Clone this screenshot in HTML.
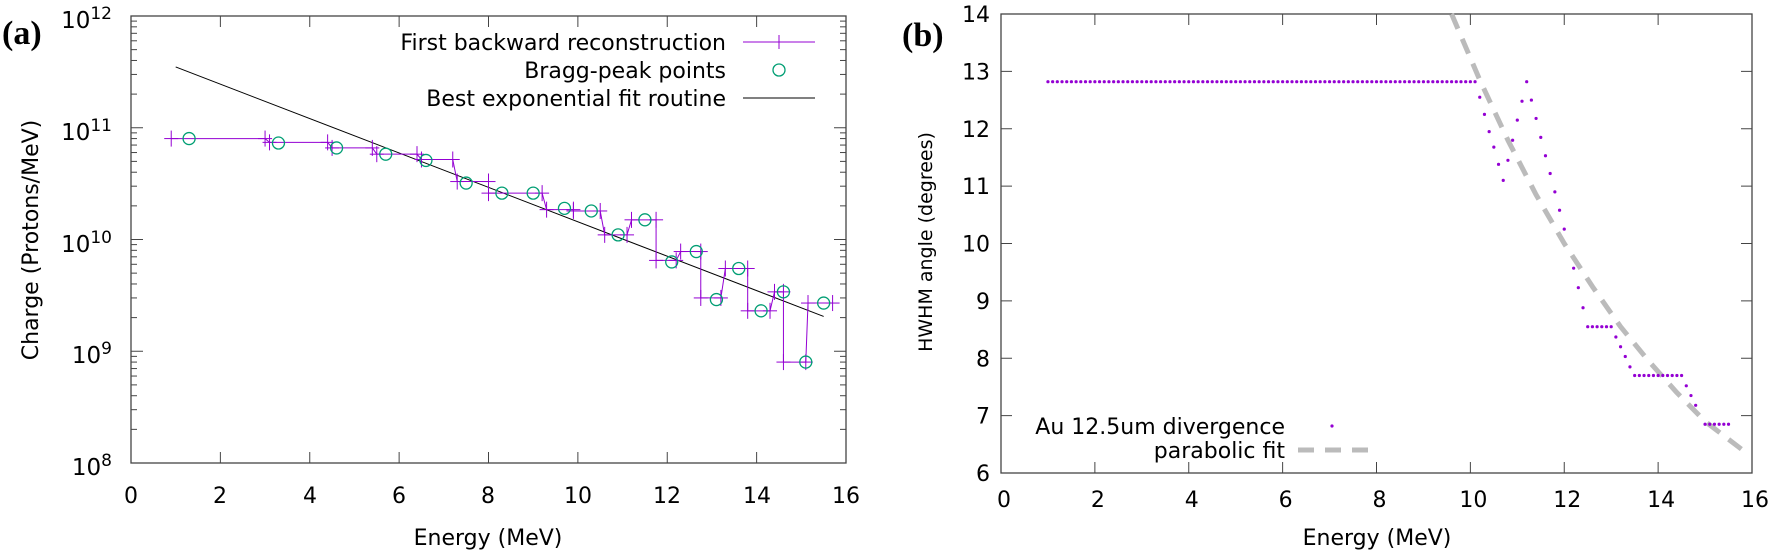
<!DOCTYPE html>
<html><head><meta charset="utf-8"><style>
body{margin:0;background:#fff;}
svg{font-family:"DejaVu Sans","Liberation Sans",sans-serif;}
</style></head><body>
<svg id="s" width="1770" height="551" xmlns="http://www.w3.org/2000/svg">
<rect width="1770" height="551" fill="#fff"/>
<text x="2" y="44" font-family="Liberation Serif,serif" font-weight="bold" font-size="34">(a)</text>
<text x="902" y="46" font-family="Liberation Serif,serif" font-weight="bold" font-size="34">(b)</text>
<g id="A"></g><g id="B"></g>
<g text-anchor="end" font-size="23">
<text x="112" y="28">10<tspan font-size="17" dy="-9">12</tspan></text>
<text x="112" y="140">10<tspan font-size="17" dy="-9">11</tspan></text>
<text x="112" y="252">10<tspan font-size="17" dy="-9">10</tspan></text>
<text x="112" y="363">10<tspan font-size="17" dy="-9">9</tspan></text>
<text x="112" y="475">10<tspan font-size="17" dy="-9">8</tspan></text>
</g>
<g text-anchor="middle" font-size="22">
<text x="131" y="503">0</text><text x="220" y="503">2</text><text x="310" y="503">4</text><text x="399" y="503">6</text><text x="488" y="503">8</text><text x="578" y="503">10</text><text x="667" y="503">12</text><text x="757" y="503">14</text><text x="846" y="503">16</text>
<text x="488" y="545">Energy (MeV)</text>
<text x="1377" y="545">Energy (MeV)</text>
</g>
<text transform="translate(38,240) rotate(-90)" text-anchor="middle" font-size="22">Charge (Protons/MeV)</text>
<text transform="translate(932,242) rotate(-90)" text-anchor="middle" font-size="19">HWHM angle (degrees)</text>
<g text-anchor="end" font-size="22">
<text x="726" y="50">First backward reconstruction</text>
<text x="726" y="78">Bragg-peak points</text>
<text x="726" y="106">Best exponential fit routine</text>
<text x="1285" y="434">Au 12.5um divergence</text>
<text x="1285" y="458">parabolic fit</text>
</g>
<g text-anchor="end" font-size="22" id="ry"></g>
<g text-anchor="middle" font-size="22" id="rx"></g>
</svg>
<script>
const NS="http://www.w3.org/2000/svg";
function el(p,n,a,txt){const e=document.createElementNS(NS,n);for(const k in a)e.setAttribute(k,a[k]);if(txt!=null)e.textContent=txt;p.appendChild(e);return e;}
const A=document.getElementById('A'),B=document.getElementById('B');
const L=131,R=846,T=16,Bo=463;
const X=e=>L+(R-L)*e/16, Y=v=>Bo-(Math.log10(v)-8)*(Bo-T)/4;
const ax='#444';
el(A,'rect',{x:L,y:T,width:R-L,height:Bo-T,fill:'none',stroke:ax,'stroke-width':1.3});
for(let i=2;i<16;i+=2){const x=X(i);el(A,'line',{x1:x,y1:Bo,x2:x,y2:Bo-11,stroke:ax});el(A,'line',{x1:x,y1:T,x2:x,y2:T+11,stroke:ax});}
for(let d=8;d<12;d++)for(let m=1;m<10;m++){const y=Y(m*Math.pow(10,d));const len=m==1?12:6;el(A,'line',{x1:L,y1:y,x2:L+len,y2:y,stroke:ax});el(A,'line',{x1:R,y1:y,x2:R-len,y2:y,stroke:ax});}
el(A,'line',{x1:743,y1:42,x2:815,y2:42,stroke:'#9400d3'});el(A,'line',{x1:779,y1:35,x2:779,y2:49,stroke:'#9400d3'});
el(A,'circle',{cx:779,cy:70,r:6,fill:'none',stroke:'#009e73','stroke-width':1.3});
el(A,'line',{x1:743,y1:98,x2:815,y2:98,stroke:'#000'});
el(A,'line',{x1:X(1),y1:Y(3.5e11),x2:X(15.5),y2:Y(2.05e9),stroke:'#000'});
const steps=[[0.9,3.0,8e10],[3.1,4.4,7.4e10],[4.5,5.4,6.6e10],[5.5,6.4,5.8e10],[6.5,7.2,5.2e10],[7.3,8.0,3.3e10],[8.0,9.2,2.6e10],[9.3,9.9,1.85e10],[9.9,10.5,1.8e10],[10.6,11.1,1.1e10],[11.2,11.75,1.5e10],[11.75,12.2,6.5e9],[12.3,12.75,7.8e9],[12.75,13.2,3e9],[13.3,13.8,5.5e9],[13.8,14.3,2.3e9],[14.4,14.6,3.4e9],[14.6,15.1,8e8],[15.15,15.7,2.7e9]];
let pts=[];steps.forEach(s=>{pts.push(X(s[0])+','+Y(s[2]));pts.push(X(s[1])+','+Y(s[2]));});
el(A,'polyline',{points:pts.join(' '),fill:'none',stroke:'#9400d3','stroke-width':1});
steps.forEach(s=>{[s[0],s[1]].forEach(e=>{const x=X(e),y=Y(s[2]);el(A,'line',{x1:x-7,y1:y,x2:x+7,y2:y,stroke:'#9400d3'});el(A,'line',{x1:x,y1:y-8,x2:x,y2:y+8,stroke:'#9400d3'});});});
const br=[[1.3,8e10],[3.3,7.3e10],[4.6,6.6e10],[5.7,5.8e10],[6.6,5.1e10],[7.5,3.2e10],[8.3,2.6e10],[9.0,2.6e10],[9.7,1.9e10],[10.3,1.8e10],[10.9,1.1e10],[11.5,1.5e10],[12.1,6.3e9],[12.65,7.8e9],[13.1,2.9e9],[13.6,5.5e9],[14.1,2.3e9],[14.6,3.4e9],[15.1,8e8],[15.5,2.7e9]];
br.forEach(p=>el(A,'circle',{cx:X(p[0]),cy:Y(p[1]),r:6,fill:'none',stroke:'#009e73','stroke-width':1.3}));
// Right
const L2=1001,R2=1752,T2=14,B2=473;
const X2=e=>L2+(R2-L2)*e/16, Y2=v=>B2-(v-6)*(B2-T2)/8;
el(B,'rect',{x:L2,y:T2,width:R2-L2,height:B2-T2,fill:'none',stroke:ax,'stroke-width':1.3});
const ry=document.getElementById('ry'),rx=document.getElementById('rx');
for(let v=6;v<=14;v++){const y=Y2(v);el(B,'line',{x1:L2,y1:y,x2:L2+11,y2:y,stroke:ax});el(B,'line',{x1:R2,y1:y,x2:R2-11,y2:y,stroke:ax});el(ry,'text',{x:990,y:y+8},String(v));}
for(let e=0;e<=16;e+=2){const x=X2(e);el(B,'line',{x1:x,y1:B2,x2:x,y2:B2-11,stroke:ax});el(B,'line',{x1:x,y1:T2,x2:x,y2:T2+11,stroke:ax});el(rx,'text',{x:x+3,y:507},String(e));}
const fit=[[9.6,14],[10.2,12.85],[10.8,11.8],[11.4,10.85],[12,10.0],[12.6,9.25],[13.2,8.55],[13.8,7.95],[14.4,7.4],[15,6.9],[15.8,6.4]];
el(B,'polyline',{points:fit.map(p=>X2(p[0])+','+Y2(p[1])).join(' '),fill:'none',stroke:'#bbb','stroke-width':5,'stroke-dasharray':'16,11','stroke-linejoin':'round'});
el(B,'line',{x1:1298,y1:450,x2:1372,y2:450,stroke:'#bbb','stroke-width':5,'stroke-dasharray':'16,11'});
const dots=[];for(let e=1;e<=10.11;e+=0.1)dots.push([e,12.82]);
[[10.2,12.55],[10.3,12.25],[10.4,11.95],[10.5,11.68],[10.6,11.38],[10.7,11.1],[10.8,11.45],[10.9,11.8],[11.0,12.15],[11.1,12.48],[11.2,12.82],[11.3,12.5],[11.4,12.18],[11.5,11.85],[11.6,11.53],[11.7,11.22],[11.8,10.9],[11.9,10.58],[12.0,10.25],[12.2,9.57],[12.3,9.23],[12.4,8.88],[13.1,8.37],[13.2,8.2],[13.3,8.03],[13.4,7.85],[14.6,7.52],[14.7,7.35],[14.8,7.18]].forEach(p=>dots.push(p));
for(let e=12.5;e<=13.01;e+=0.1)dots.push([e,8.55]);
for(let e=13.5;e<=14.51;e+=0.1)dots.push([e,7.7]);
for(let e=15.0;e<=15.51;e+=0.1)dots.push([e,6.85]);
dots.forEach(p=>el(B,'circle',{cx:X2(p[0]),cy:Y2(p[1]),r:1.6,fill:'#9400d3'}));
el(B,'circle',{cx:1332,cy:426,r:1.6,fill:'#9400d3'});
</script>
</body></html>
